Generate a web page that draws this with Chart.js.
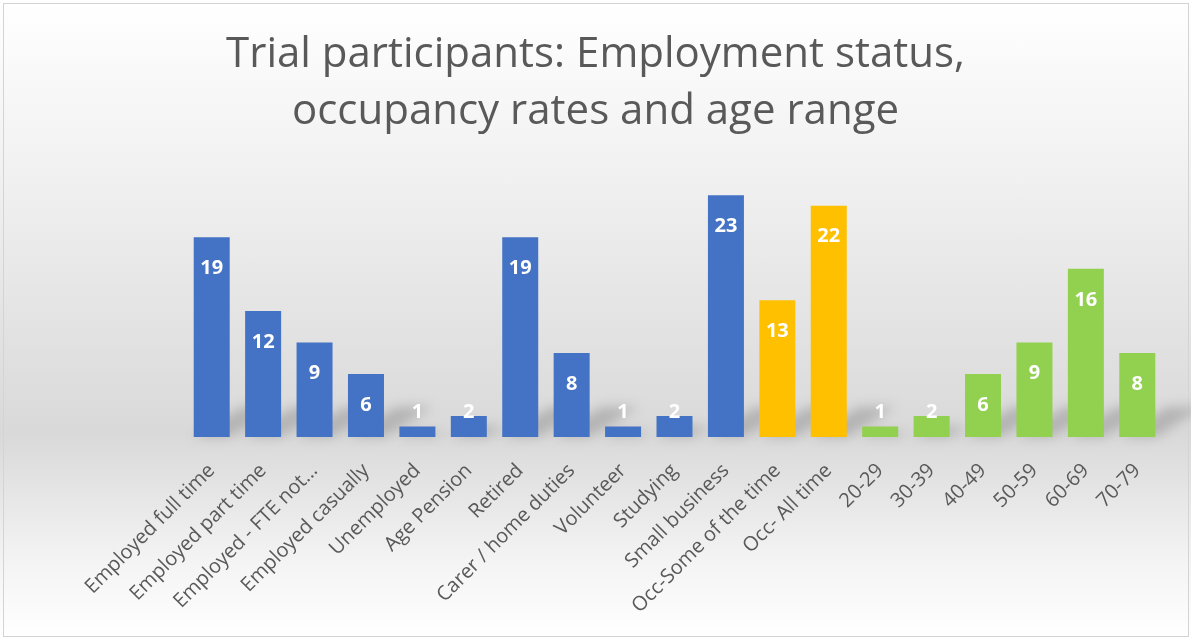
<!DOCTYPE html>
<html lang="en">
<head>
    <meta charset="UTF-8">
    <title>Trial participants</title>
    <style>
        html, body {
            margin: 0;
            padding: 0;
            background: #fff;
        }
        #wrap {
            position: absolute;
            left: 0;
            top: 0;
            width: 1191px;
            height: 639px;
            background: linear-gradient(to bottom, #ffffff 0%, #f2f2f2 25%, #d9d9d9 68%, #f4f4f4 88%, #ffffff 100%);
        }
        #frame {
            position: absolute;
            left: 3px;
            top: 3px;
            width: 1186px;
            height: 634px;
            border: 1px solid #d4d4d4;
            box-sizing: border-box;
        }
        #chart {
            position: absolute;
            left: 0;
            top: 0;
        }
    </style>
    <script src="https://cdn.jsdelivr.net/npm/chart.js"></script>
</head>
<body>
    <div id="wrap">
        <div id="frame"></div>
        <canvas id="chart" width="1191" height="639"></canvas>
    </div>
    <script>
        const categories = [
            'Employed full time', 'Employed part time', 'Employed - FTE not...', 'Employed casually',
            'Unemployed', 'Age Pension', 'Retired', 'Carer / home duties', 'Volunteer', 'Studying',
            'Small business', 'Occ-Some of the time', 'Occ- All time',
            '20-29', '30-39', '40-49', '50-59', '60-69', '70-79'
        ];
        const counts = [19, 12, 9, 6, 1, 2, 19, 8, 1, 2, 23, 13, 22, 1, 2, 6, 9, 16, 8];
        const groups = ['emp', 'emp', 'emp', 'emp', 'emp', 'emp', 'emp', 'emp', 'emp', 'emp', 'emp',
            'occ', 'occ', 'age', 'age', 'age', 'age', 'age', 'age'];
        const groupColors = { emp: '#4472C4', occ: '#FFC000', age: '#92D050' };
        const titleLines = ['Trial participants: Employment status,', 'occupancy rates and age range'];

        // values written inside the top of each bar
        const barLabels = {
            id: 'barLabels',
            afterDatasetsDraw(chart) {
                const ctx = chart.ctx;
                const meta = chart.getDatasetMeta(0);
                const base = chart.scales.y.getPixelForValue(0);
                ctx.save();
                ctx.font = 'bold 20px "Open Sans", sans-serif';
                ctx.fillStyle = '#ffffff';
                ctx.textAlign = 'center';
                ctx.textBaseline = 'middle';
                meta.data.forEach((bar, i) => {
                    const y = Math.min(bar.y + 31, base - 25);
                    ctx.fillText(String(counts[i]), bar.x, y);
                });
                ctx.restore();
            }
        };

        // soft floor shadow behind the bars
        const barShadow = {
            id: 'barShadow',
            beforeDatasetsDraw(chart) {
                const ctx = chart.ctx;
                const meta = chart.getDatasetMeta(0);
                const base = chart.scales.y.getPixelForValue(0);
                ctx.save();
                ctx.filter = 'blur(6px)';
                ctx.fillStyle = 'rgba(90,90,90,0.3)';
                meta.data.forEach((bar) => {
                    const h = Math.min(base - bar.y, 60) * 0.5;
                    const w = bar.width;
                    ctx.beginPath();
                    ctx.moveTo(bar.x - w / 2, base);
                    ctx.lineTo(bar.x + w / 2, base);
                    ctx.lineTo(bar.x + w / 2 + h * 1.6, base - h);
                    ctx.lineTo(bar.x - w / 2 + h * 1.6, base - h);
                    ctx.closePath();
                    ctx.fill();
                });
                ctx.restore();
            }
        };

        const hiddenAxis = (pos, width) => ({
            position: pos,
            display: true,
            min: 0,
            max: 25,
            grid: { display: false, drawTicks: false },
            border: { display: false },
            ticks: { display: false },
            afterFit(scale) {
                scale.width = width;
            }
        });

        new Chart(document.getElementById('chart'), {
            type: 'bar',
            data: {
                labels: categories,
                datasets: [{
                    data: counts,
                    backgroundColor: groups.map(g => groupColors[g]),
                    borderWidth: 0,
                    categoryPercentage: 1,
                    barPercentage: 0.7
                }]
            },
            options: {
                responsive: false,
                animation: false,
                layout: { padding: 0 },
                plugins: {
                    legend: { display: false },
                    tooltip: { enabled: false },
                    title: {
                        display: true,
                        text: titleLines,
                        color: '#595959',
                        font: { family: '"Open Sans", sans-serif', size: 42, weight: 'normal', lineHeight: 1.36 },
                        padding: { top: 26, bottom: 34 }
                    }
                },
                scales: {
                    x: {
                        grid: { display: false, drawTicks: false },
                        border: { display: false },
                        ticks: {
                            color: '#595959',
                            font: { family: '"Open Sans", sans-serif', size: 20 },
                            minRotation: 45,
                            maxRotation: 45,
                            autoSkip: false,
                            padding: 22
                        },
                        afterFit(scale) {
                            scale.height = 639 - 437;
                        }
                    },
                    y: hiddenAxis('left', 186),
                    y2: hiddenAxis('right', 28)
                }
            },
            plugins: [barShadow, barLabels]
        });
    </script>
</body>
</html>
